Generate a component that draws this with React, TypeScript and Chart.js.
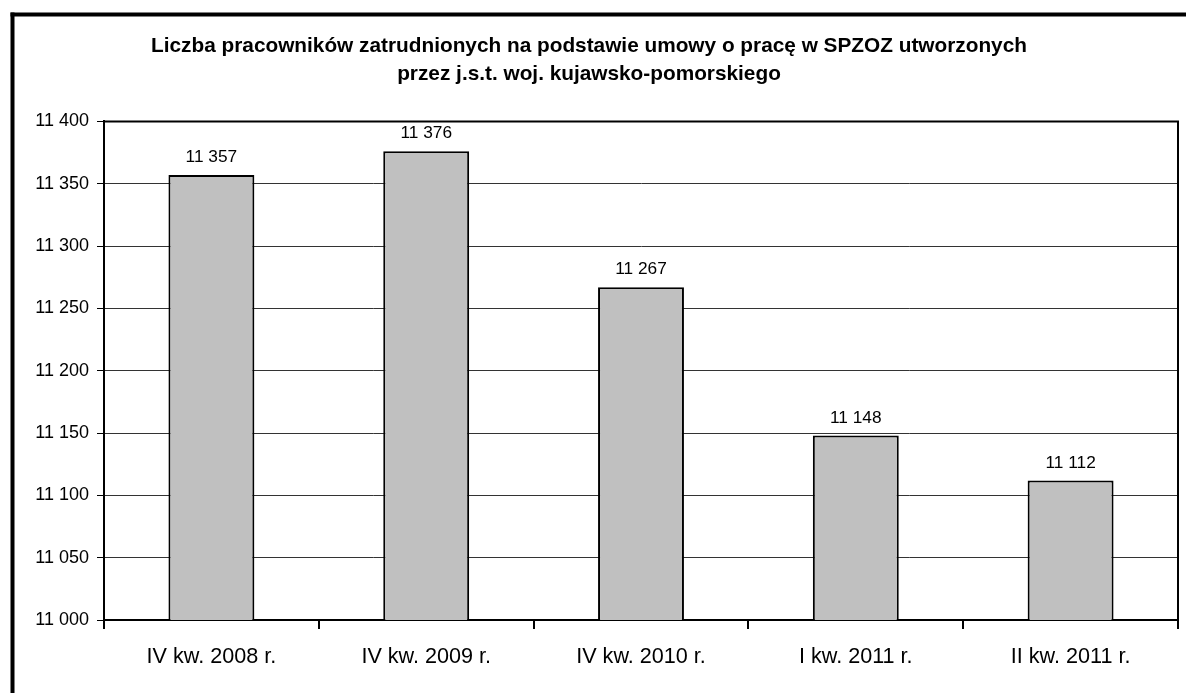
import React, { useEffect, useRef } from "react";
import { Chart, registerables } from "chart.js";

Chart.register(...registerables);

const categories = ["IV kw. 2008 r.", "IV kw. 2009 r.", "IV kw. 2010 r.", "I kw. 2011 r.", "II kw. 2011 r."];
const employees = [11357, 11376, 11267, 11148, 11112];
const titleLines = [
  "Liczba pracowników zatrudnionych na podstawie umowy o pracę w SPZOZ utworzonych",
  "przez j.s.t. woj. kujawsko-pomorskiego",
];
const yMin = 11000;
const yMax = 11400;
const yStep = 50;

const FONT = "'Liberation Sans', Arial, sans-serif";

const fmt = (v: number) => String(Math.round(v)).replace(/\B(?=(\d{3})+(?!\d))/g, " ");

const framePlugin = {
  id: "frame",
  beforeDraw(chart: any) {
    const { ctx, width, height } = chart;
    ctx.save();
    ctx.fillStyle = "#ffffff";
    ctx.fillRect(0, 0, width, height);
    ctx.fillStyle = "#000000";
    ctx.fillRect(10.5, 12.5, 4, height);
    ctx.fillRect(10.5, 12.5, width, 4);
    ctx.restore();
  },
  afterDraw(chart: any) {
    const { ctx, chartArea } = chart;
    ctx.save();
    ctx.strokeStyle = "#000000";
    ctx.lineWidth = 2;
    ctx.beginPath();
    ctx.moveTo(chartArea.left, chartArea.top);
    ctx.lineTo(chartArea.right, chartArea.top);
    ctx.lineTo(chartArea.right, chartArea.bottom);
    ctx.stroke();
    ctx.restore();
  },
};

const labelPlugin = {
  id: "valueLabels",
  afterDatasetsDraw(chart: any) {
    const { ctx } = chart;
    const meta = chart.getDatasetMeta(0);
    ctx.save();
    ctx.fillStyle = "#000000";
    ctx.font = `17.3px ${FONT}`;
    ctx.textAlign = "center";
    ctx.textBaseline = "bottom";
    meta.data.forEach((bar: any, i: number) => {
      ctx.fillText(fmt(employees[i]), bar.x, bar.y - 9);
    });
    ctx.restore();
  },
};

export default function App() {
  const ref = useRef<HTMLCanvasElement | null>(null);
  useEffect(() => {
    document.body.style.margin = "0";
    const c = new Chart(ref.current!, {
      type: "bar",
      data: {
        labels: categories,
        datasets: [
          {
            data: employees,
            backgroundColor: "#c0c0c0",
            borderColor: "#000000",
            borderWidth: 2,
            categoryPercentage: 1,
            barPercentage: 0.4,
          },
        ],
      },
      options: {
        animation: false,
        responsive: false,
        layout: { padding: { left: 0, right: 8, top: 0, bottom: 0 } },
        plugins: {
          legend: { display: false },
          tooltip: { enabled: false },
          title: {
            display: true,
            text: titleLines,
            color: "#000000",
            font: { family: FONT, size: 20.8, weight: "bold", lineHeight: 1.38 },
            padding: { top: 31.5, bottom: 32.5 },
          },
        },
        scales: {
          x: {
            grid: {
              offset: true,
              drawOnChartArea: false,
              drawTicks: true,
              tickLength: 9,
              tickColor: "#000000",
              lineWidth: 2,
            },
            border: { color: "#000000", width: 2 },
            ticks: { color: "#000000", font: { family: FONT, size: 21.6 }, padding: 15 },
            afterFit(scale: any) {
              scale.height = 73;
            },
          },
          y: {
            min: yMin,
            max: yMax,
            ticks: {
              stepSize: yStep,
              color: "#000000",
              font: { family: FONT, size: 18 },
              padding: 8,
              callback: (v: any) => fmt(Number(v)),
            },
            grid: {
              color: "#333333",
              lineWidth: 1,
              tickLength: 7,
              tickColor: "#000000",
            },
            border: { color: "#000000", width: 2 },
            afterFit(scale: any) {
              scale.width = 104;
            },
          },
        },
      },
      plugins: [framePlugin, labelPlugin],
    } as any);
    return () => c.destroy();
  }, []);
  return (
    <div style={{ width: 1186, height: 693 }}>
      <canvas ref={ref} width={1186} height={693} style={{ display: "block" }} />
    </div>
  );
}
